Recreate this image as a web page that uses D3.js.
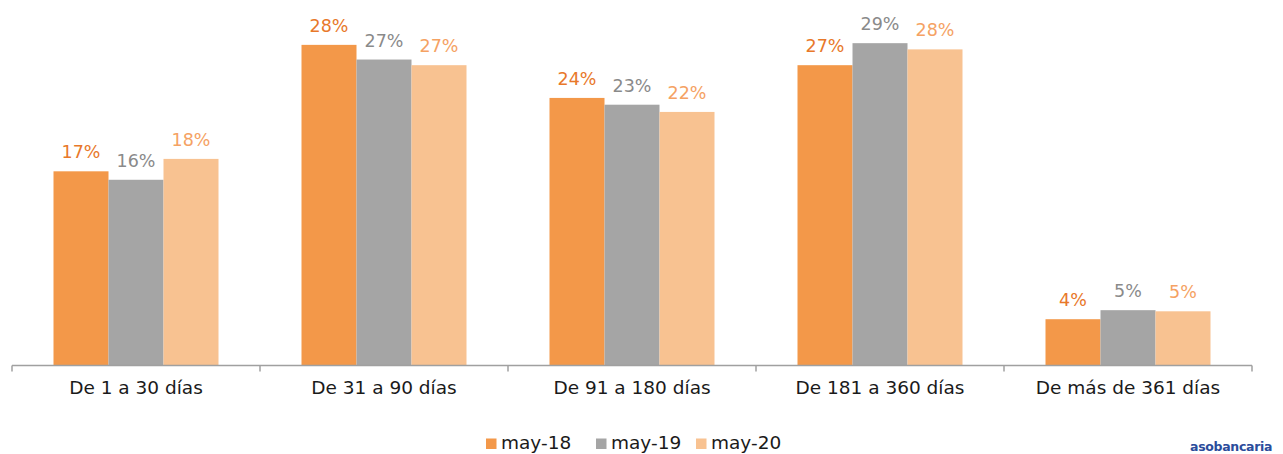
<!DOCTYPE html>
<html>
<head>
<meta charset="utf-8">
<script src="https://cdn.jsdelivr.net/npm/d3@7"></script>
<style>
  html, body { margin: 0; padding: 0; background: #fff; }
  svg { display: block; font-family: "DejaVu Sans", sans-serif; }
</style>
</head>
<body>
<svg id="chart" width="1283" height="454"></svg>
<script>
const categories = ["De 1 a 30 días", "De 31 a 90 días", "De 91 a 180 días", "De 181 a 360 días", "De más de 361 días"];
const seriesNames = ["may-18", "may-19", "may-20"];
const may18 = [17.2, 28.4, 23.7, 26.6, 4.1];
const may19 = [16.45, 27.1, 23.1, 28.55, 4.9];
const may20 = [18.3, 26.6, 22.46, 28.0, 4.8];
const seriesValues = [may18, may19, may20];

const barColors = ["#F39849", "#A5A5A5", "#F8C291"];
const labelColors = ["#E8782A", "#8A8A8A", "#F5A263"];

const svg = d3.select("#chart");
const x0 = d3.scaleBand().domain(categories).range([12, 1252]).padding(0);
const x1 = d3.scaleBand().domain(seriesNames).range([0, x0.bandwidth()]).paddingInner(0).paddingOuter(0.7545);
const y = d3.scaleLinear().domain([0, 30]).range([365.5, 365.5 - 30 * 11.29]);

const rows = categories.map((c, i) => ({ cat: c, vals: seriesNames.map((s, j) => ({ s, j, v: seriesValues[j][i] })) }));

const g = svg.selectAll("g.cat").data(rows).join("g")
  .attr("class", "cat")
  .attr("transform", d => `translate(${x0(d.cat)},0)`);

g.selectAll("rect").data(d => d.vals).join("rect")
  .attr("x", d => x1(d.s))
  .attr("width", x1.bandwidth())
  .attr("y", d => y(d.v))
  .attr("height", d => y(0) - y(d.v))
  .attr("fill", d => barColors[d.j]);

g.selectAll("text.lbl").data(d => d.vals).join("text")
  .attr("class", "lbl")
  .attr("x", d => x1(d.s) + x1.bandwidth() / 2)
  .attr("y", d => y(d.v) - 13)
  .attr("text-anchor", "middle")
  .attr("font-size", 17.5)
  .attr("fill", d => labelColors[d.j])
  .text(d => Math.round(d.v) + "%");

// axis
const axis = d3.axisBottom(x0).tickSize(0).tickPadding(15);
const ax = svg.append("g").attr("transform", `translate(0,${y(0)})`).call(axis);
ax.select(".domain").remove();
ax.selectAll("text").attr("font-size", 18.5).attr("fill", "#1a1a1a").attr("font-family", "DejaVu Sans, sans-serif");
ax.append("line").attr("x1", 12).attr("x2", 1252).attr("y1", 0).attr("y2", 0)
  .attr("stroke", "#A0A0A0").attr("stroke-width", 1.5);
const edges = categories.map(c => x0(c)).concat([x0.range()[1]]);
ax.selectAll("line.tk").data(edges).join("line").attr("class", "tk")
  .attr("x1", d => d).attr("x2", d => d).attr("y1", 0).attr("y2", 6)
  .attr("stroke", "#A0A0A0").attr("stroke-width", 1.5);

// legend
const legendX = [486, 596, 696];
const lg = svg.append("g").selectAll("g").data(seriesNames).join("g")
  .attr("transform", (d, i) => `translate(${legendX[i]},438.5)`);
lg.append("rect").attr("width", 10.5).attr("height", 10.5).attr("fill", (d, i) => barColors[i]);
lg.append("text").attr("x", 15).attr("y", 10.8).attr("font-size", 18.5).attr("fill", "#1a1a1a").text(d => d);

// logo
svg.append("text").attr("x", 1190).attr("y", 451).attr("font-size", 12.5).attr("font-weight", "bold")
  .attr("fill", "#2B4C9B").attr("letter-spacing", -0.3).text("asobancaria");
</script>
</body>
</html>
